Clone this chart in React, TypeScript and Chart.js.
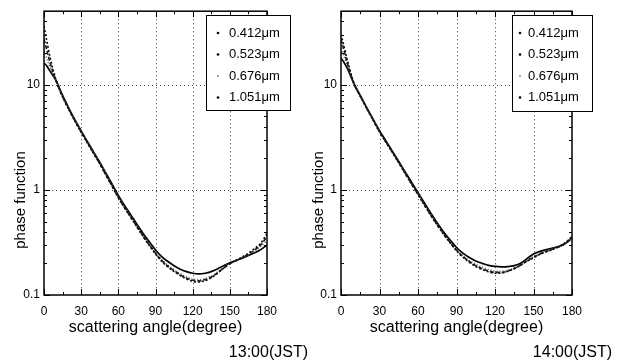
import React, { useEffect, useRef } from "react";
import { Chart, registerables } from "chart.js";

Chart.register(...registerables);

const ANGLES = [0, 2, 5, 10, 15, 20, 25, 30, 35, 40, 45, 50, 55, 60, 65, 70, 75, 80, 85, 90, 95, 100, 105, 110, 115, 120, 125, 130, 135, 140, 145, 150, 155, 160, 165, 170, 175, 180];
const WAVELENGTHS = ["0.412μm", "0.523μm", "0.676μm", "1.051μm"];
const X_TICKS = [0, 30, 60, 90, 120, 150, 180];
const Y_TICKS = [0.1, 1, 10];
const Y_MIN = 0.1;
const Y_MAX = 50;

// 13:00 (JST)
const P13_412 = [36, 27, 18, 10.8, 7.7, 5.82, 4.5, 3.53, 2.8, 2.22, 1.77, 1.38, 1.08, 0.843, 0.676, 0.549, 0.445, 0.36, 0.296, 0.246, 0.209, 0.185, 0.167, 0.153, 0.142, 0.135, 0.133, 0.137, 0.146, 0.161, 0.18, 0.199, 0.214, 0.23, 0.25, 0.276, 0.31, 0.385];
const P13_523 = [27, 22, 16, 10.7, 7.7, 5.85, 4.54, 3.56, 2.83, 2.24, 1.78, 1.39, 1.09, 0.85, 0.68, 0.553, 0.449, 0.364, 0.3, 0.25, 0.213, 0.188, 0.17, 0.156, 0.145, 0.138, 0.136, 0.14, 0.148, 0.162, 0.18, 0.198, 0.212, 0.226, 0.244, 0.268, 0.3, 0.36];
const P13_676 = [21, 18, 14.5, 10.7, 7.76, 5.89, 4.57, 3.59, 2.85, 2.26, 1.8, 1.41, 1.1, 0.86, 0.69, 0.56, 0.455, 0.37, 0.305, 0.255, 0.218, 0.193, 0.174, 0.16, 0.149, 0.142, 0.14, 0.143, 0.151, 0.165, 0.183, 0.2, 0.213, 0.226, 0.242, 0.262, 0.29, 0.33];
const P13_1051 = [16, 15.2, 13.4, 10.8, 7.9, 6.0, 4.62, 3.63, 2.88, 2.29, 1.83, 1.44, 1.13, 0.885, 0.71, 0.58, 0.47, 0.385, 0.32, 0.268, 0.232, 0.208, 0.19, 0.176, 0.167, 0.161, 0.159, 0.161, 0.167, 0.177, 0.19, 0.203, 0.213, 0.224, 0.237, 0.252, 0.27, 0.298];

// 14:00 (JST)
const P14_412 = [30, 24, 17, 10.4, 7.8, 5.95, 4.6, 3.56, 2.84, 2.27, 1.81, 1.43, 1.13, 0.9, 0.715, 0.57, 0.462, 0.377, 0.313, 0.264, 0.229, 0.205, 0.187, 0.175, 0.166, 0.161, 0.162, 0.168, 0.178, 0.192, 0.21, 0.226, 0.244, 0.258, 0.272, 0.29, 0.315, 0.36];
const P14_523 = [27, 22, 16, 10.3, 7.8, 6.0, 4.63, 3.58, 2.86, 2.29, 1.82, 1.44, 1.14, 0.91, 0.722, 0.575, 0.466, 0.381, 0.316, 0.267, 0.232, 0.208, 0.19, 0.178, 0.169, 0.164, 0.164, 0.169, 0.179, 0.193, 0.211, 0.228, 0.246, 0.26, 0.273, 0.288, 0.31, 0.355];
const P14_676 = [22, 19, 15, 10.2, 7.8, 6.0, 4.65, 3.6, 2.87, 2.3, 1.83, 1.45, 1.15, 0.92, 0.73, 0.58, 0.47, 0.385, 0.32, 0.27, 0.236, 0.212, 0.196, 0.184, 0.175, 0.169, 0.168, 0.172, 0.181, 0.194, 0.212, 0.232, 0.25, 0.263, 0.275, 0.288, 0.31, 0.35];
const P14_1051 = [17.8, 16.5, 14.2, 10.3, 7.9, 6.05, 4.7, 3.66, 2.92, 2.33, 1.86, 1.48, 1.18, 0.94, 0.75, 0.6, 0.485, 0.398, 0.333, 0.283, 0.25, 0.227, 0.211, 0.2, 0.191, 0.187, 0.185, 0.186, 0.19, 0.2, 0.222, 0.245, 0.26, 0.27, 0.28, 0.29, 0.31, 0.345];

const X_TITLE = "scattering angle(degree)";
const Y_TITLE = "phase function";

const FONT = "'Liberation Sans', Arial, Helvetica, sans-serif";

const STYLES = [
  { color: "#111", dash: [2, 2] },
  { color: "#222", dash: [4, 2] },
  { color: "#666", dash: [1, 2] },
  { color: "#000", dash: [] as number[] },
];

type PanelCfg = {
  series: number[][];
  time: string;
  yWidth: number;
  padRight: number;
  legend: { x: number; y: number; w: number; h: number; dotX: number; textX: number };
  timeRight: number;
  yTitleX: number;
};

function makeChart(canvas: HTMLCanvasElement, cfg: PanelCfg) {
  const overlay = {
    id: "paperDecor",
    beforeDatasetsDraw(chart: any) {
      const { ctx, chartArea: a, scales } = chart;
      const xs = scales.x, ys = scales.y;
      ctx.save();
      ctx.strokeStyle = "#444";
      ctx.lineWidth = 1;
      ctx.setLineDash([1, 3]);
      for (const v of [30, 60, 90, 120, 150]) {
        const px = Math.round(xs.getPixelForValue(v)) + 0.5;
        ctx.beginPath();
        ctx.moveTo(px, a.top);
        ctx.lineTo(px, a.bottom);
        ctx.stroke();
      }
      for (const v of [1, 10]) {
        const py = Math.round(ys.getPixelForValue(v)) + 0.5;
        ctx.beginPath();
        ctx.moveTo(a.left, py);
        ctx.lineTo(a.right, py);
        ctx.stroke();
      }
      ctx.restore();
    },
    afterDraw(chart: any) {
      const { ctx, chartArea: a, scales } = chart;
      const xs = scales.x, ys = scales.y;
      ctx.save();
      ctx.setLineDash([]);
      ctx.strokeStyle = "#000";
      ctx.lineWidth = 1.5;
      ctx.strokeRect(a.left, a.top, a.right - a.left, a.bottom - a.top);
      ctx.lineWidth = 1;
      for (let v = 0; v <= 180; v += 15) {
        const px = Math.round(xs.getPixelForValue(v)) + 0.5;
        const len = v % 30 === 0 ? 6 : 3;
        ctx.beginPath();
        ctx.moveTo(px, a.bottom);
        ctx.lineTo(px, a.bottom - len);
        ctx.moveTo(px, a.top);
        ctx.lineTo(px, a.top + len);
        ctx.stroke();
      }
      for (const dec of [0.1, 1, 10]) {
        for (let m = 1; m <= 9; m++) {
          const v = dec * m;
          if (v > Y_MAX) continue;
          const py = Math.round(ys.getPixelForValue(v)) + 0.5;
          const len = m === 1 ? 6 : 3;
          ctx.beginPath();
          ctx.moveTo(a.left, py);
          ctx.lineTo(a.left + len, py);
          ctx.moveTo(a.right, py);
          ctx.lineTo(a.right - len, py);
          ctx.stroke();
        }
      }
      // legend
      const L = cfg.legend;
      ctx.fillStyle = "#fff";
      ctx.fillRect(L.x, L.y, L.w, L.h);
      ctx.strokeStyle = "#000";
      ctx.lineWidth = 1;
      ctx.strokeRect(L.x + 0.5, L.y + 0.5, L.w, L.h);
      ctx.font = `13px ${FONT}`;
      ctx.textBaseline = "middle";
      ctx.textAlign = "left";
      chart.data.datasets.forEach((ds: any, i: number) => {
        const cy = L.y + 18 + i * 21.5;
        ctx.fillStyle = i === 2 ? "#777" : "#000";
        ctx.beginPath();
        ctx.arc(L.dotX, cy, i === 2 ? 0.9 : 1.3, 0, Math.PI * 2);
        ctx.fill();
        ctx.fillStyle = "#000";
        ctx.fillText(ds.label, L.textX, cy);
      });
      // titles
      ctx.fillStyle = "#000";
      ctx.font = `16px ${FONT}`;
      ctx.textAlign = "center";
      ctx.textBaseline = "middle";
      ctx.fillText(X_TITLE, (a.left + a.right) / 2, 328);
      ctx.textAlign = "right";
      ctx.fillText(cfg.time, cfg.timeRight, 353);
      ctx.save();
      ctx.font = `15px ${FONT}`;
      ctx.translate(cfg.yTitleX, 200);
      ctx.rotate(-Math.PI / 2);
      ctx.textAlign = "center";
      ctx.fillText(Y_TITLE, 0, 0);
      ctx.restore();
      ctx.restore();
    },
  };

  return new Chart(canvas, {
    type: "line",
    data: {
      labels: ANGLES,
      datasets: cfg.series.map((s, i) => ({
        label: WAVELENGTHS[i],
        data: ANGLES.map((x, k) => ({ x, y: s[k] })),
        borderColor: STYLES[i].color,
        borderDash: STYLES[i].dash,
        borderWidth: 1.7,
        pointRadius: 0,
        cubicInterpolationMode: "monotone",
        fill: false,
      })),
    },
    options: {
      animation: false,
      responsive: false,
      maintainAspectRatio: false,
      layout: { padding: { left: 0, right: cfg.padRight, top: 4, bottom: 0 } },
      plugins: { legend: { display: false }, tooltip: { enabled: false } },
      scales: {
        x: {
          type: "linear",
          min: 0,
          max: 180,
          afterBuildTicks: (s: any) => { s.ticks = X_TICKS.map((value) => ({ value })); },
          afterFit: (s: any) => { s.height = 69; },
          grid: { display: false, drawTicks: false },
          border: { display: false },
          ticks: { color: "#000", font: { family: FONT, size: 12 }, padding: 9, maxRotation: 0, autoSkip: false },
        },
        y: {
          type: "logarithmic",
          min: Y_MIN,
          max: Y_MAX,
          afterBuildTicks: (s: any) => { s.ticks = Y_TICKS.map((value) => ({ value })); },
          afterFit: (s: any) => { s.width = cfg.yWidth; },
          grid: { display: false, drawTicks: false },
          border: { display: false },
          ticks: {
            color: "#000",
            font: { family: FONT, size: 12 },
            padding: 4,
            autoSkip: false,
            callback: (v: any) => String(v),
          },
        },
      },
    },
    plugins: [overlay],
  } as any);
}

function Panel({ cfg, left, width }: { cfg: PanelCfg; left: number; width: number }) {
  const ref = useRef<HTMLCanvasElement | null>(null);
  useEffect(() => {
    if (!ref.current) return;
    const chart = makeChart(ref.current, cfg);
    return () => chart.destroy();
  }, []);
  return (
    <canvas
      ref={ref}
      width={width}
      height={364}
      style={{ position: "absolute", left, top: 0, width, height: 364 }}
    />
  );
}

export default function App() {
  const left: PanelCfg = {
    series: [P13_412, P13_523, P13_676, P13_1051],
    time: "13:00(JST)",
    yWidth: 44,
    padRight: 310 - 267,
    legend: { x: 206, y: 15, w: 84, h: 95, dotX: 218, textX: 229 },
    timeRight: 308,
    yTitleX: 21,
  };
  const right: PanelCfg = {
    series: [P14_412, P14_523, P14_676, P14_1051],
    time: "14:00(JST)",
    yWidth: 31,
    padRight: 308 - 262,
    legend: { x: 202, y: 15, w: 80, h: 96, dotX: 210, textX: 218 },
    timeRight: 302,
    yTitleX: 9,
  };
  return (
    <div style={{ position: "absolute", left: 0, top: 0, width: 618, height: 364, background: "#fff", overflow: "hidden" }}>
      <Panel cfg={left} left={0} width={310} />
      <Panel cfg={right} left={310} width={308} />
    </div>
  );
}
